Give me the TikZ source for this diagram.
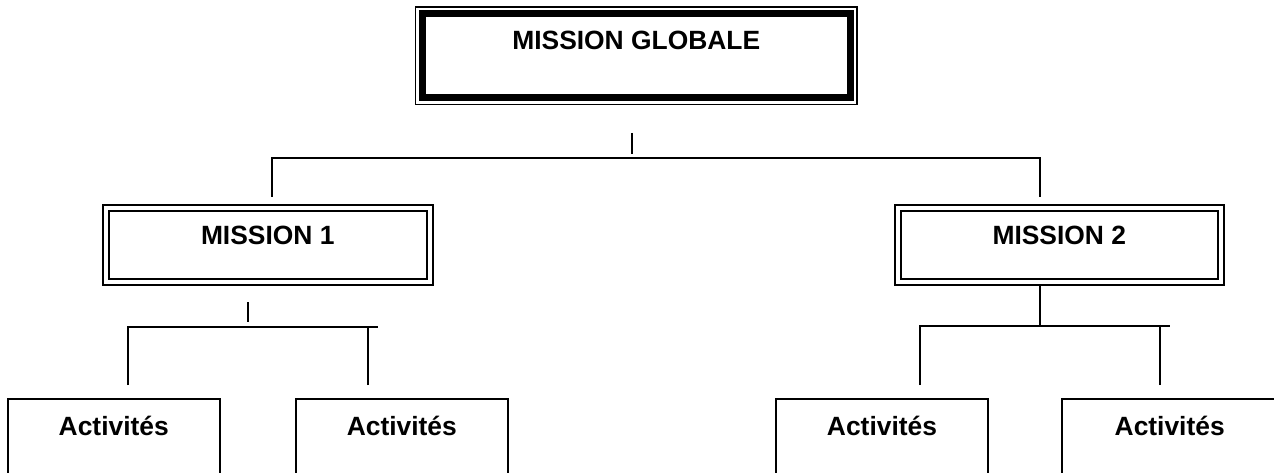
\documentclass[tikz,border=0pt]{standalone}
\usepackage{fontspec}
\setmainfont{Liberation Sans}
\usetikzlibrary{calc}

\tikzset{
  lbl/.style={font=\fontsize{26.4}{30}\selectfont\bfseries, text height=36pt,
    inner sep=0pt, outer sep=0pt, anchor=base},
  globalbox/.style={lbl, draw, line width=7pt, minimum width=427.5pt, text depth=47.7pt},
  missionbox/.style={lbl, draw, double, line width=2pt, double distance=4pt,
    minimum width=323.5pt, text depth=37.5pt},
  actbox/.style={lbl, draw, line width=2.2pt, minimum width=211.7pt, text depth=80pt},
  link/.style={line width=2pt}
}

\begin{document}
\begin{tikzpicture}[x=1pt, y=-1pt]
    \useasboundingbox (0,0) rectangle (1274,473);
    \clip (0,0) rectangle (1274,473);
    % Boxes
    \node[globalbox] (global) at (636.25,50) {MISSION GLOBALE};
    \draw[line width=1.2pt] ($(global.north west)+(-7,-7)$) rectangle ($(global.south east)+(7,7)$);
    \node[missionbox] (m1) at (267.75,244) {MISSION 1};
    \node[missionbox] (m2) at (1059.25,244) {MISSION 2};
    \node[actbox] (a1) at (113.75,435) {Activités};
    \node[actbox] (a2) at (401.8,435) {Activités};
    \node[actbox] (a3) at (882,435) {Activités};
    \node[actbox, minimum width=215pt] (a4) at (1169.7,435) {Activités};
    % Level 1 links
    \coordinate (top-stub) at (632,133); \coordinate (top-bus) at (632,154);
    \coordinate (m1-in) at (272,197); \coordinate (m2-in) at (1040,197);
    \draw[link] (top-stub) -- (top-bus);
    \draw[link] (m1-in) -- ++(0,-39) -| (m2-in);
    % Mission 1 links
    \coordinate (m1-stub) at (248,302); \coordinate (m1-bus) at (248,322);
    \coordinate (a1-in) at (128,385); \coordinate (a2-in) at (368.3,385);
    \draw[link] (m1-stub) -- (m1-bus);
    \draw[link] (a1-in) -- ++(0,-58) -- ++(250.3,0);
    \draw[link] (a2-in) -- ++(0,-58);
    % Mission 2 links
    \coordinate (m2-out) at (1040,284);
    \coordinate (a3-in) at (920,385); \coordinate (a4-in) at (1160,385);
    \draw[link] (m2-out) -- ++(0,42);
    \draw[link] (a3-in) -- ++(0,-59) -- ++(250,0);
    \draw[link] (a4-in) -- ++(0,-59);
\end{tikzpicture}
\end{document}
